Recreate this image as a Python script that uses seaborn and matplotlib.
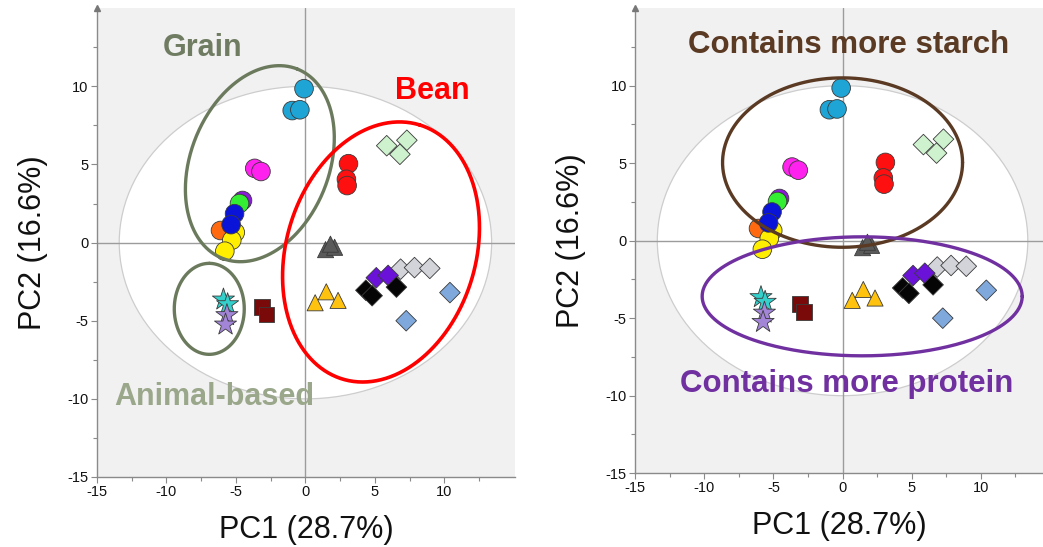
import numpy as np
import pandas as pd
import matplotlib
matplotlib.use("Agg")
import matplotlib.pyplot as plt
from matplotlib.patches import Ellipse
import seaborn as sns

# ---- PCA scores of the food samples ----------------------------------
sample_group = [
    "rice", "rice", "rice",
    "millet", "millet",
    "oat", "barley",
    "wheat", "wheat",
    "corn",
    "sorghum", "sorghum", "sorghum",
    "red_bean", "red_bean", "red_bean",
    "mung_bean", "mung_bean", "mung_bean",
    "pea", "pea", "pea",
    "black_bean", "black_bean", "black_bean",
    "soy_purple", "soy_purple",
    "soy_gray", "soy_gray", "soy_gray",
    "soy_blue", "soy_blue",
    "chickpea", "chickpea", "chickpea",
    "beef", "beef",
    "fish", "fish",
    "milk", "milk",
]
pc1 = [
    -0.1, -0.95, -0.4,
    -3.65, -3.2,
    -4.6, -4.75,
    -5.1, -5.35,
    -6.15,
    -5.05, -5.3, -5.8,
    3.1, 2.95, 3.0,
    5.85, 7.3, 6.8,
    1.45, 2.1, 1.8,
    4.35, 4.8, 6.55,
    5.1, 5.95,
    6.85, 7.85, 8.95,
    10.4, 7.25,
    0.7, 1.5, 2.35,
    -3.1, -2.8,
    -5.9, -5.6,
    -5.65, -5.75,
]
pc2 = [
    9.85, 8.45, 8.5,
    4.75, 4.55,
    2.75, 2.55,
    1.85, 1.15,
    0.8,
    0.65, 0.15, -0.55,
    5.05, 4.05, 3.65,
    6.2, 6.55, 5.65,
    -0.45, -0.3, -0.1,
    -3.05, -3.4, -2.85,
    -2.25, -2.1,
    -1.7, -1.6, -1.65,
    -3.2, -5.0,
    -3.85, -3.15, -3.7,
    -4.1, -4.6,
    -3.65, -3.95,
    -4.65, -5.25,
]

group_color = {
    "rice": "#1ea5d6", "millet": "#ff22ee", "oat": "#8a1bd8",
    "barley": "#33ee33", "wheat": "#0a14d8", "corn": "#ff6a10",
    "sorghum": "#ffee00", "red_bean": "#ff1010", "mung_bean": "#cdf2cd",
    "pea": "#5a5a5a", "black_bean": "#050505", "soy_purple": "#6a12d8",
    "soy_gray": "#d2d4da", "soy_blue": "#7fa8dc", "chickpea": "#ffc20e",
    "beef": "#7a0a0a", "fish": "#33d0cc", "milk": "#a385d8",
}
group_marker = {
    "rice": "o", "millet": "o", "oat": "o", "barley": "o", "wheat": "o",
    "corn": "o", "sorghum": "o", "red_bean": "o",
    "mung_bean": "D", "soy_purple": "D", "soy_gray": "D", "black_bean": "D",
    "soy_blue": "D",
    "pea": "^", "chickpea": "^",
    "beef": "s",
    "fish": "*", "milk": "*",
}
marker_size = {"o": 180, "D": 110, "^": 135, "s": 130, "*": 280}
draw_order = ["pea", "chickpea", "mung_bean", "soy_gray", "soy_purple",
              "black_bean", "soy_blue", "beef", "fish", "milk",
              "red_bean", "rice", "millet", "corn", "sorghum", "oat",
              "barley", "wheat"]

df = pd.DataFrame({"group": sample_group, "PC1": pc1, "PC2": pc2})

sns.set_theme(style="white")
plt.rcParams["font.family"] = ["Liberation Sans", "DejaVu Sans"]
plt.rcParams["axes.unicode_minus"] = False

fig = plt.figure(figsize=(10.43, 5.47), dpi=100)
ax_l = fig.add_axes([0.093, 0.128, 0.401, 0.857])
ax_r = fig.add_axes([0.609, 0.135, 0.391, 0.850])


def ring(ax, cx, cy, a_px, b_px, angle, **kw):
    """Outline of an ellipse given in screen pixels, centred on data (cx, cy)."""
    W, H = fig.get_size_inches() * fig.dpi
    box = ax.get_position()
    x0, x1 = ax.get_xlim()
    y0, y1 = ax.get_ylim()
    sx = box.width * W / (x1 - x0)
    sy = box.height * H / (y1 - y0)
    t = np.linspace(0, 2 * np.pi, 400)
    th = np.deg2rad(angle)
    u, v = a_px * np.cos(t), b_px * np.sin(t)
    dx = u * np.cos(th) - v * np.sin(th)
    dy = u * np.sin(th) + v * np.cos(th)
    ax.plot(cx + dx / sx, cy + dy / sy, zorder=6, **kw)


def score_plot(ax, xmax):
    ax.set_xlim(-15, xmax)
    ax.set_ylim(-15, 15)
    ax.set_facecolor("#f1f1f1")
    # Hotelling T2 confidence ellipse
    ax.add_patch(Ellipse((0, 0), 2 * 13.4, 20, facecolor="white",
                         edgecolor="#cdcdcd", lw=0.9, zorder=0.5))
    ax.axhline(0, color="#9c9c9c", lw=1.0, zorder=1)
    ax.axvline(0, color="#9c9c9c", lw=1.0, zorder=1)
    for g in draw_order:
        sub = df[df["group"] == g]
        m = group_marker[g]
        sns.scatterplot(data=sub, x="PC1", y="PC2", hue="group",
                        palette={g: group_color[g]}, marker=m,
                        s=marker_size[m], edgecolor="#3a3a3a", linewidth=0.6,
                        legend=False, ax=ax, zorder=5)
    for side in ("top", "right"):
        ax.spines[side].set_visible(False)
    for side in ("left", "bottom"):
        ax.spines[side].set_color("#8a8a8a")
        ax.spines[side].set_linewidth(1.0)
    ax.set_xticks([-15, -10, -5, 0, 5, 10])
    ax.set_yticks([-15, -10, -5, 0, 5, 10])
    ax.set_xticks(np.arange(-12.5, xmax, 5), minor=True)
    ax.set_yticks(np.arange(-12.5, 15, 5), minor=True)
    ax.tick_params(axis="both", which="both", direction="out", color="#8a8a8a",
                   labelcolor="#111111", labelsize=10.5, length=4, width=0.8,
                   bottom=True, left=True, pad=2)
    ax.tick_params(which="minor", length=3)
    ax.plot(0, 1, marker="^", color="#777777", ms=5, transform=ax.transAxes,
            clip_on=False, zorder=7)
    ax.set_xlabel("PC1 (28.7%)", fontsize=22, color="#111111", labelpad=11)
    ax.set_ylabel("PC2 (16.6%)", fontsize=22, color="#111111", labelpad=14)


score_plot(ax_l, 15.1)
score_plot(ax_r, 14.5)

# Left: food-type groupings
ring(ax_l, -3.28, 5.05, 101.8, 69.2, 68.4, color="#6b7a5c", lw=2.4)
ring(ax_l, 5.44, -0.6, 132.8, 94.7, 73.2, color="#ff0000", lw=2.6)
ring(ax_l, -6.92, -4.24, 45.5, 35, 90, color="#6b7a5c", lw=2.4)
ax_l.text(-7.4, 12.45, "Grain", color="#6f7c62", fontsize=22,
          fontweight="bold", ha="center", va="center", zorder=8)
ax_l.text(9.1, 9.7, "Bean", color="#ff0000", fontsize=22,
          fontweight="bold", ha="center", va="center", zorder=8)
ax_l.text(-6.55, -9.85, "Animal-based", color="#9aa78a", fontsize=22,
          fontweight="bold", ha="center", va="center", zorder=8)

# Right: nutrient groupings
ring(ax_r, 0.0, 5.04, 120, 84.7, 0, color="#5b3a24", lw=2.4)
ring(ax_r, 1.42, -3.59, 160, 59.5, 0, color="#7030a0", lw=2.4)
ax_r.text(0.45, 12.6, "Contains more starch", color="#5b3a24", fontsize=22.5,
          fontweight="bold", ha="center", va="center", zorder=8)
ax_r.text(0.3, -9.25, "Contains more protein", color="#7030a0", fontsize=22.5,
          fontweight="bold", ha="center", va="center", zorder=8)

fig.savefig("out.png", dpi=100)
